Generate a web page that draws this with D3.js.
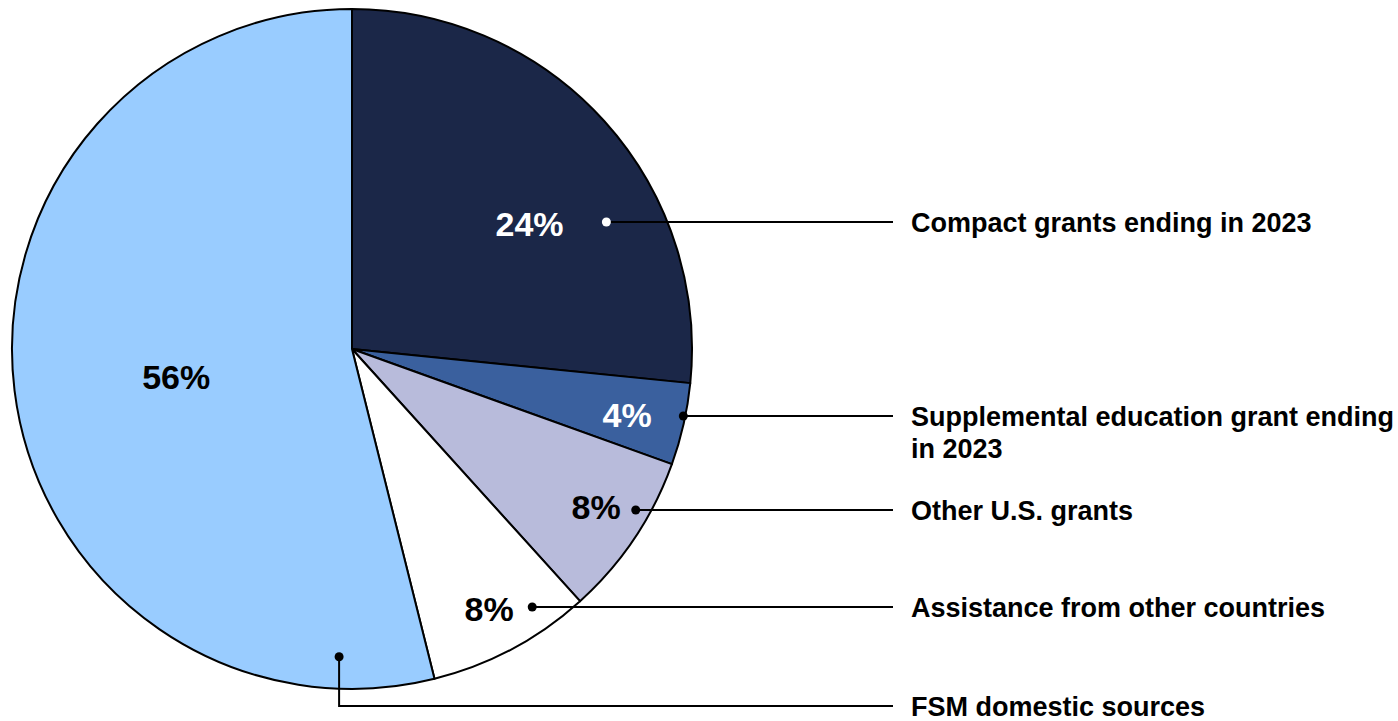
<!DOCTYPE html>
<html><head><meta charset="utf-8">
<script src="https://cdn.jsdelivr.net/npm/d3@7"></script>
<style>html,body{margin:0;padding:0;background:#fff;}svg{display:block;}</style>
</head><body>
<svg id="chart" width="1398" height="721"></svg>
<script>
// ---- data ----
const categories = ["Compact grants ending in 2023", "Supplemental education grant ending in 2023", "Other U.S. grants", "Assistance from other countries", "FSM domestic sources"];
const legendLines = [["Compact grants ending in 2023"], ["Supplemental education grant ending", "in 2023"], ["Other U.S. grants"], ["Assistance from other countries"], ["FSM domestic sources"]];
const values = [26.6, 3.9, 7.8, 7.8, 53.9];
const percentLabels = ["24%", "4%", "8%", "8%", "56%"];
const colors = ["#1b2748", "#3a609e", "#b8bbdb", "#ffffff", "#99ccff"];
const labelColors = ["#ffffff", "#ffffff", "#000000", "#000000", "#000000"];
const dotColors = ["#ffffff", "#000000", "#000000", "#000000", "#000000"];

// ---- layout ----
const cx = 352, cy = 349, R = 340;
// polar positions [angle deg clockwise from top, radius px]
const labelPolar = [[54.9, 217], [103.5, 283], [123, 291], [152.2, 294], [261, 178]];
const dotPolar = [[63.6, 284], [101.4, 338], [119.5, 326], [145.1, 315], [182.4, 308]];
const lineY = [222, 416, 510, 607, 706];
const lineEndX = 893, textX = 911;

const svg = d3.select("#chart");
const g = svg.append("g").attr("transform", `translate(${cx},${cy})`);
const pie = d3.pie().sort(null).value(d => d)(values);
const arc = d3.arc().innerRadius(0).outerRadius(R);

g.selectAll("path.slice").data(pie).join("path")
  .attr("class", "slice")
  .attr("d", arc)
  .attr("fill", (d, i) => colors[i])
  .attr("stroke", "#000").attr("stroke-width", 2).attr("stroke-linejoin", "round");

function polar(a, r) {
  const t = a * Math.PI / 180;
  return [r * Math.sin(t), -r * Math.cos(t)];
}

// percent labels
g.selectAll("text.pct").data(pie).join("text")
  .attr("class", "pct")
  .attr("x", (d, i) => polar(...labelPolar[i])[0])
  .attr("y", (d, i) => polar(...labelPolar[i])[1])
  .attr("text-anchor", "middle").attr("dominant-baseline", "central")
  .attr("font-family", "Liberation Sans, Arial, sans-serif")
  .attr("font-weight", "bold").attr("font-size", 34)
  .attr("fill", (d, i) => labelColors[i])
  .text((d, i) => percentLabels[i]);

// leader lines + dots
const leaders = svg.append("g");
values.forEach((v, i) => {
  const p = polar(...dotPolar[i]);
  const x0 = cx + p[0], y0 = cy + p[1];
  const bend = Math.abs(y0 - lineY[i]) > 4;
  const path = bend ? `M${x0},${y0}V${lineY[i]}H${lineEndX}` : `M${x0},${lineY[i]}H${lineEndX}`;
  leaders.append("path").attr("d", path).attr("fill", "none")
    .attr("stroke", "#000").attr("stroke-width", 2);
  leaders.append("circle").attr("cx", x0).attr("cy", bend ? y0 : lineY[i]).attr("r", 4.5)
    .attr("fill", dotColors[i]);
});

// legend text
const lg = svg.append("g")
  .attr("font-family", "Liberation Sans, Arial, sans-serif")
  .attr("font-weight", "bold").attr("font-size", 27).attr("fill", "#000");
legendLines.forEach((lines, i) => {
  lines.forEach((ln, j) => {
    lg.append("text").attr("x", textX).attr("y", lineY[i] + j * 32 + 1)
      .attr("dominant-baseline", "central").text(ln);
  });
});
</script>
</body></html>
